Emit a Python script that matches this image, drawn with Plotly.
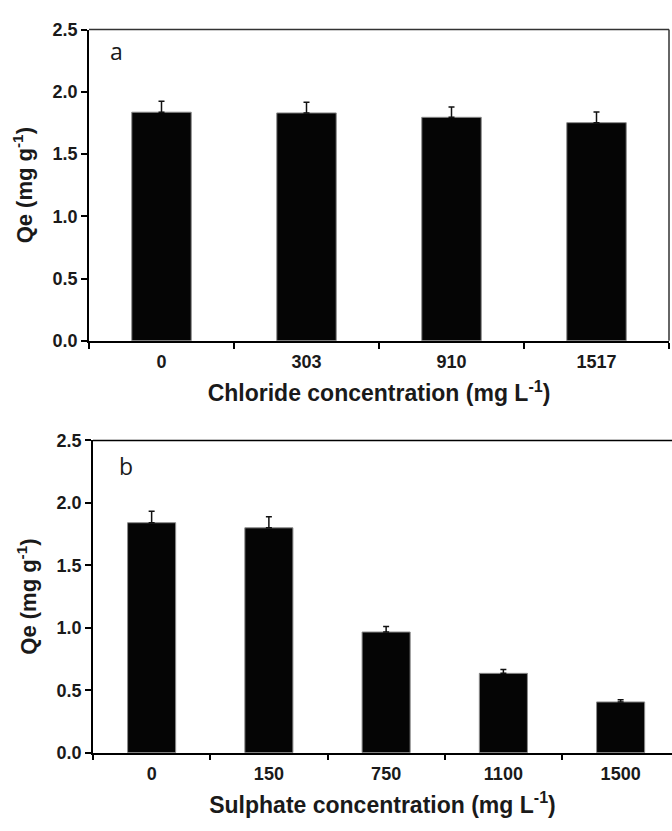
import plotly.graph_objects as go

# Panel a: chloride
chloride_labels = ["0", "303", "910", "1517"]
chloride_qe = [1.836, 1.830, 1.795, 1.752]
chloride_err = [0.088, 0.086, 0.082, 0.086]

# Panel b: sulphate
sulphate_labels = ["0", "150", "750", "1100", "1500"]
sulphate_qe = [1.841, 1.800, 0.966, 0.635, 0.406]
sulphate_err = [0.091, 0.088, 0.044, 0.031, 0.018]

y_ticks = [0.0, 0.5, 1.0, 1.5, 2.0, 2.5]
y_ticktext = ["0.0", "0.5", "1.0", "1.5", "2.0", "2.5"]

W, H = 672, 831
FONT = "Liberation Sans, Arial, sans-serif"
BAR_FILL = "#050505"
BAR_EDGE = "#8a8a8a"

fig = go.Figure()

fig.add_trace(go.Bar(
    x=chloride_labels, y=chloride_qe, xaxis="x", yaxis="y",
    marker=dict(color=BAR_FILL, line=dict(color=BAR_EDGE, width=1)),
    error_y=dict(type="data", array=chloride_err, arrayminus=[0]*len(chloride_err),
                 symmetric=False, color="#111", thickness=1.5, width=3),
    showlegend=False,
))
fig.add_trace(go.Bar(
    x=sulphate_labels, y=sulphate_qe, xaxis="x2", yaxis="y2",
    marker=dict(color=BAR_FILL, line=dict(color=BAR_EDGE, width=1)),
    error_y=dict(type="data", array=sulphate_err, arrayminus=[0]*len(sulphate_err),
                 symmetric=False, color="#111", thickness=1.5, width=3),
    showlegend=False,
))

tickfont = dict(family=FONT, size=18, color="#1a1a1a", weight="bold")
xtitlefont = dict(family=FONT, size=23, color="#1a1a1a", weight="bold")
ytitlefont = dict(family=FONT, size=22, color="#1a1a1a", weight="bold")

xa_common = dict(
    type="category", showgrid=False, zeroline=False, showline=True,
    linecolor="black", linewidth=1.5, ticks="outside", tickson="boundaries",
    ticklen=6, tickwidth=1.5, tickcolor="black", tickfont=tickfont,
    ticklabelstandoff=4,
)
ya_common = dict(
    range=[0, 2.5], tickvals=y_ticks, ticktext=y_ticktext,
    showgrid=False, zeroline=False, showline=True,
    linecolor="black", linewidth=1.5, ticks="outside",
    ticklen=6, tickwidth=1.5, tickcolor="black", tickfont=tickfont,
)

fig.update_layout(
    width=W, height=H,
    margin=dict(l=0, r=0, t=0, b=0),
    paper_bgcolor="white", plot_bgcolor="white",
    bargap=0.59,
    xaxis=dict(**xa_common, domain=[89 / W, 669 / W], anchor="y",
               range=[-0.5, 3.5],
               title=dict(text="Chloride concentration (mg L<sup>-1</sup>)",
                          font=xtitlefont, standoff=14)),
    yaxis=dict(**ya_common, domain=[1 - 339 / H, 1 - 20 / H], anchor="x",
               title=dict(text="Qe (mg g<sup>-1</sup>)", font=ytitlefont, standoff=14)),
    xaxis2=dict(**xa_common, domain=[93 / W, 1.0], anchor="y2",
                range=[-0.5, -0.5 + (W - 93) / 117.25],
                title=dict(text="Sulphate concentration (mg L<sup>-1</sup>)",
                           font=xtitlefont, standoff=14)),
    yaxis2=dict(**ya_common, domain=[1 - 761 / H, 1 - 441 / H], anchor="x2",
                title=dict(text="Qe (mg g<sup>-1</sup>)", font=ytitlefont, standoff=14)),
)

# frame lines (top + right of panel a, top of panel b)
fig.add_shape(type="line", xref="x domain", yref="y domain", x0=0, x1=1, y0=1, y1=1,
              line=dict(color="#333", width=1.5))
fig.add_shape(type="line", xref="x domain", yref="y domain", x0=1, x1=1, y0=0, y1=1,
              line=dict(color="#333", width=1.5))
fig.add_shape(type="line", xref="x2 domain", yref="y2 domain", x0=0, x1=1, y0=1, y1=1,
              line=dict(color="black", width=1.5))

panel_font = dict(family="Open Sans, sans-serif", size=23, color="#1a1a1a")
fig.add_annotation(text="a", xref="x domain", yref="y domain", x=0.033, y=0.931,
                   xanchor="left", yanchor="middle", showarrow=False, font=panel_font)
fig.add_annotation(text="b", xref="x2 domain", yref="y2 domain", x=0.041, y=0.919,
                   xanchor="left", yanchor="middle", showarrow=False, font=panel_font)

fig.write_html("out.html")
